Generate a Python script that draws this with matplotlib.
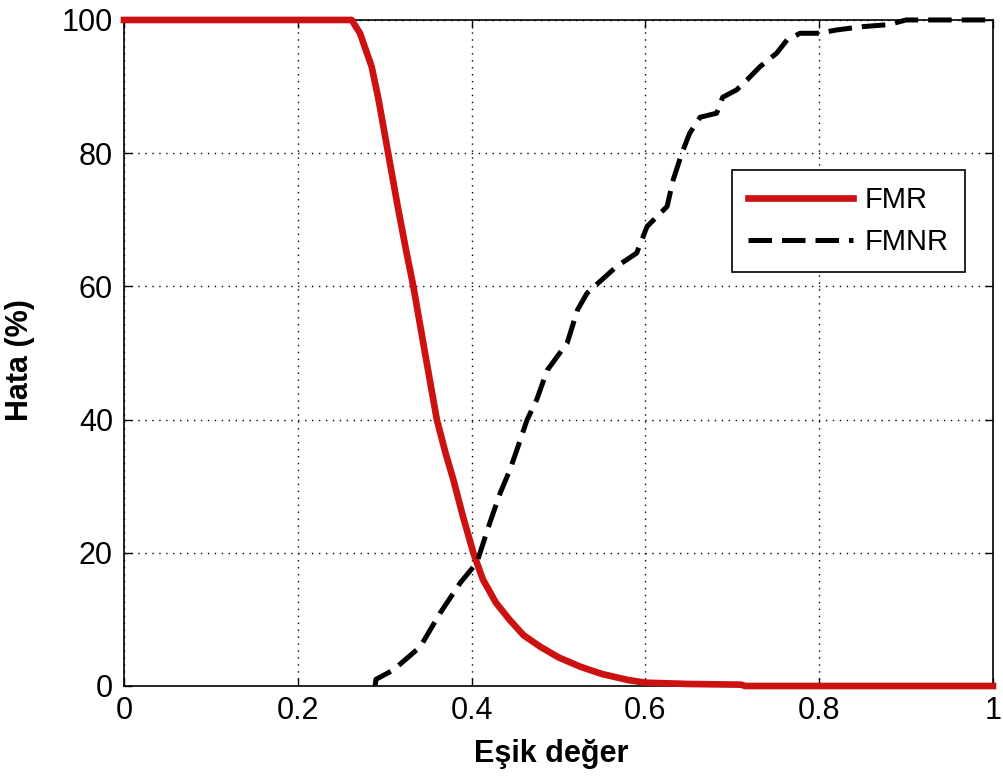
import matplotlib.pyplot as plt

# FMR / FMNR error rates (%) against threshold value
fmr_thr = [0.0, 0.262, 0.2716, 0.285, 0.293, 0.304, 0.315, 0.3245, 0.333, 0.3464,
           0.36, 0.37, 0.379, 0.39, 0.402, 0.413, 0.428, 0.444, 0.46, 0.479,
           0.5, 0.525, 0.55, 0.58, 0.6, 0.65, 0.71, 0.715, 1.0]
fmr_val = [100, 100, 98, 93, 88, 80, 72, 65.5, 60, 50,
           40, 35, 31, 25.5, 20, 16, 12.5, 9.9, 7.6, 5.9,
           4.3, 2.9, 1.8, 0.9, 0.5, 0.3, 0.2, 0, 0]

fmnr_thr = [0.289, 0.29, 0.31, 0.341, 0.364, 0.387, 0.406, 0.421, 0.433, 0.444,
            0.452, 0.464, 0.475, 0.487, 0.51, 0.522, 0.533, 0.567, 0.59, 0.602,
            0.625, 0.632, 0.642, 0.651, 0.663, 0.682, 0.689, 0.705, 0.717, 0.732,
            0.751, 0.763, 0.778, 0.80, 0.82, 0.85, 0.88, 0.9, 1.0]
fmnr_val = [0, 1, 2.4, 5.9, 11, 15.5, 18.5, 24.5, 29, 32.4,
            35.4, 40, 43, 47.4, 51.5, 56.5, 59, 63, 65, 69,
            72, 76, 80, 83, 85.4, 86, 88.4, 89.5, 91, 93,
            95, 97, 98, 98, 98.5, 99, 99.3, 100, 100]

xticks = [0, 0.2, 0.4, 0.6, 0.8, 1]
xtick_labels = ['0', '0.2', '0.4', '0.6', '0.8', '1']
yticks = [0, 20, 40, 60, 80, 100]

font = ['Liberation Sans', 'DejaVu Sans']

fig = plt.figure(figsize=(10.04, 7.83), dpi=100)
ax = fig.add_axes([0.1235, 0.1239, 0.8655, 0.8506])

ax.plot(fmr_thr, fmr_val, color='#cc1111', lw=4.8, label='FMR',
        clip_on=False, zorder=3)
ax.plot(fmnr_thr, fmnr_val, color='black', lw=3.6, dashes=(4.7, 2.0),
        label='FMNR', clip_on=False, zorder=3)

ax.set_xlim(0, 1)
ax.set_ylim(0, 100)
ax.set_xticks(xticks)
ax.set_xticklabels(xtick_labels)
ax.set_yticks(yticks)
ax.grid(True, color='black', linestyle=(0, (1, 4)), lw=1.0)
ax.tick_params(direction='in', top=True, right=True, length=6, width=1,
               labelsize=22)
ax.tick_params(axis='y', pad=8)
ax.tick_params(axis='x', pad=7)
for lbl in ax.get_xticklabels() + ax.get_yticklabels():
    lbl.set_family(font)
for sp in ax.spines.values():
    sp.set_linewidth(1.2)

ax.set_xlabel('Eşik değer', family=font, fontsize=22, fontweight='bold')
ax.set_ylabel('Hata (%)', family=font, fontsize=22, fontweight='bold')
ax.xaxis.set_label_coords(0.492, -0.08)
ax.yaxis.set_label_coords(-0.102, 0.49)

leg = ax.legend(loc='upper right', bbox_to_anchor=(0.968, 0.775),
                prop={'family': font, 'size': 21}, fancybox=False,
                framealpha=1, edgecolor='black', handlelength=3.6,
                handletextpad=0.4, borderpad=0.55, labelspacing=0.5,
                borderaxespad=0)
leg.get_frame().set_linewidth(1.2)

fig.savefig('out.png', dpi=100)
